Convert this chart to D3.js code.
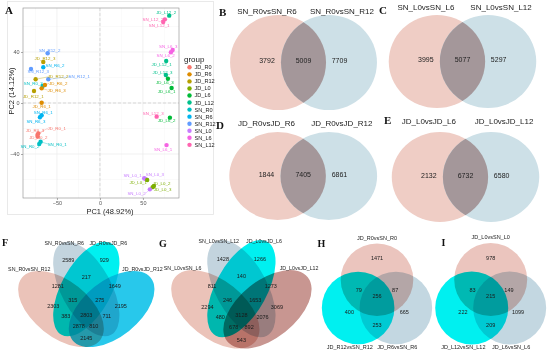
<!DOCTYPE html>
<html><head><meta charset="utf-8">
<script src="https://cdn.jsdelivr.net/npm/d3@7/dist/d3.min.js"></script>
<style>
html,body{margin:0;padding:0;background:#fff;}
svg{display:block;}
text{font-family:"Liberation Sans",Arial,sans-serif;}
.letter{font-family:"Liberation Serif","Times New Roman",serif;font-weight:bold;}
</style></head><body>
<svg id="fig" width="550" height="356"></svg>
<script>
// ===================== DATA =====================
// Panel A: PCA
const groups = ["JD_R0","JD_R6","JD_R12","JD_L0","JD_L6","JD_L12","SN_R0","SN_R6","SN_R12","SN_L0","SN_L6","SN_L12"];
const groupColors = ["#F8766D","#DE8C00","#B79F00","#7CAE00","#00BA38","#00C08B","#00BFC4","#00B4F0","#619CFF","#C77CFF","#F564E3","#FF64B0"];
const sampleNames = ["JD_L12_2","SN_L12_2","SN_L12_1","SN_L6_3","SN_L6_2","JD_L12_1","JD_L12_3","JD_L6_3","JD_L6_1","SN_L12_3","JD_L6_2","SN_L6_1",
  "SN_L0_1","SN_L0_3","JD_L0_1","JD_L0_2","JD_L0_3","SN_L0_2",
  "SN_R12_2","JD_R12_3","SN_R6_2","SN_R12_3","JD_R12_2","SN_R12_1","SN_R0_3","JD_R6_2","JD_R6_3","JD_R12_1","JD_R6_1","SN_R6_1","SN_R6_3",
  "JD_R0_1","JD_R0_3","JD_R0_2","SN_R0_1","SN_R0_2"];
const pc1 = [80.6,75.6,73.6,84.6,82.6,77.1,76.7,79.1,83.4,66.0,81.4,77.5,
  51.5,53.1,55.0,62.8,61.3,58.1,
  -60.8,-65.9,-65.9,-80.2,-74.8,-60.1,-66.6,-64.0,-67.8,-76.7,-67.8,-67.8,-69.8,
  -71.7,-72.7,-72.4,-69.0,-70.6];
const pc2 = [68.5,65.6,63.5,41.6,39.8,32.9,22.0,19.0,11.8,-10.7,-11.5,-33.0,
  -59.0,-59.6,-60.4,-65.1,-66.0,-67.7,
  39.0,32.2,28.0,26.7,18.6,18.6,13.3,14.1,11.5,9.4,0.2,-9.6,-11.2,
  -23.8,-25.1,-26.4,-30.4,-32.2];
const xTicks = [-50, 0, 50];
const yTicks = [-40, 0, 40];
const xTitle = "PC1 (48.92%)";
const yTitle = "PC2 (14.12%)";
const legendTitle = "group";

// Panels B-E: two-set Venn diagrams
const vennBSets = ["SN_R0vsSN_R6","SN_R0vsSN_R12"];
const vennBCounts = [3792, 5009, 7709];
const vennCSets = ["SN_L0vsSN_L6","SN_L0vsSN_L12"];
const vennCCounts = [3995, 5077, 5297];
const vennDSets = ["JD_R0vsJD_R6","JD_R0vsJD_R12"];
const vennDCounts = [1844, 7405, 6861];
const vennESets = ["JD_L0vsJD_L6","JD_L0vsJD_L12"];
const vennECounts = [2132, 6732, 6580];

// Panels F-G: four-set Venn (sets: left, upper-left, upper-right, right)
const quadRegions = ["B","C","BC","AB","CD","ABC","BCD","A","D","AC","ABCD","BD","ACD","ABD","AD"];
const vennFSets = ["SN_R0vsSN_R12","SN_R0vsSN_R6","JD_R0vsJD_R6","JD_R0vsJD_R12"];
const vennFCounts = [2589, 929, 217, 1281, 1649, 315, 275, 2303, 2195, 383, 2803, 711, 2878, 810, 2145];
const vennGSets = ["SN_L0vsSN_L6","SN_L0vsSN_L12","JD_L0vsJD_L6","JD_L0vsJD_L12"];
const vennGCounts = [1428, 1266, 140, 811, 1273, 246, 1653, 2294, 3069, 480, 3128, 2076, 678, 892, 543];

// Panels H-I: three-set Venn (sets: top, bottom-left, bottom-right)
const triRegions = ["A","AB","AC","ABC","B","C","BC"];
const vennHSets = ["JD_R0vsSN_R0","JD_R12vsSN_R12","JD_R6vsSN_R6"];
const vennHCounts = [1471, 79, 87, 256, 400, 665, 253];
const vennISets = ["JD_L0vsSN_L0","JD_L12vsSN_L12","JD_L6vsSN_L6"];
const vennICounts = [978, 83, 149, 215, 222, 1099, 209];

// ===================== LAYOUT =====================
const svg = d3.select("#fig");
svg.append("rect").attr("width",550).attr("height",356).attr("fill","#fff");

function letter(t, x, y, size){
  svg.append("text").attr("class","letter").attr("x",x).attr("y",y)
    .attr("font-size",size||11).attr("fill","#111").text(t);
}

// ---------- Panel A ----------
const labelDx = [-3,-12,-4,-4.4,-5.3,-4.6,-3.3,-3,-5,-3.4,-3.3,-3.4, -11.6,9.3,-9,7.7,10,-13.3,
  2,1.7,11.7,7.3,22.5,31,-9.4,13.3,15,-0.7,0,1.6,-4, 18.4,-2.5,0.6,16.6,-9.3];
const labelDy = [-3.2,0,3.4,-3.3,3.4,3,-2.7,3.3,3.3,-3,3,4, -2.6,-4.7,2.7,-2.7,2.7,4,
  -2.6,-3,-1.6,2.7,-2.6,-2.6,-2.7,-1.7,1.7,5.7,3.3,-2.6,3.7, -5,-5,1,2.3,2];

svg.append("rect").attr("x",7.5).attr("y",1.5).attr("width",206).attr("height",213)
  .attr("fill","none").attr("stroke","#e4e4e4").attr("stroke-width",0.8);

const px = d3.scaleLinear().domain([-89.5, 92]).range([23, 179]);
const py = d3.scaleLinear().domain([-74.5, 74.5]).range([198, 8]);
const color = d3.scaleOrdinal().domain(groups).range(groupColors);
const gA = svg.append("g");
[-75,-25,25,75].forEach(v=>gA.append("line").attr("x1",px(v)).attr("x2",px(v)).attr("y1",py(74.5)).attr("y2",py(-74.5)).attr("stroke","#f3f3f3").attr("stroke-width",0.4));
[-60,-20,20,60].forEach(v=>gA.append("line").attr("y1",py(v)).attr("y2",py(v)).attr("x1",px(-89.5)).attr("x2",px(92)).attr("stroke","#f3f3f3").attr("stroke-width",0.4));
xTicks.forEach(v=>gA.append("line").attr("x1",px(v)).attr("x2",px(v)).attr("y1",py(74.5)).attr("y2",py(-74.5)).attr("stroke","#ebebeb").attr("stroke-width",0.7));
yTicks.forEach(v=>gA.append("line").attr("y1",py(v)).attr("y2",py(v)).attr("x1",px(-89.5)).attr("x2",px(92)).attr("stroke","#ebebeb").attr("stroke-width",0.7));
gA.append("line").attr("x1",px(0)).attr("x2",px(0)).attr("y1",py(74.5)).attr("y2",py(-74.5)).attr("stroke","#c4c4c4").attr("stroke-width",0.6).attr("stroke-dasharray","3,2");
gA.append("line").attr("y1",py(0)).attr("y2",py(0)).attr("x1",px(-89.5)).attr("x2",px(92)).attr("stroke","#c4c4c4").attr("stroke-width",0.6).attr("stroke-dasharray","3,2");
const xAxis = d3.axisBottom(px).tickValues(xTicks).tickSize(2).tickPadding(1.5);
const yAxis = d3.axisLeft(py).tickValues(yTicks).tickSize(2).tickPadding(1.5);
const gx = gA.append("g").attr("transform",`translate(0,${py(-74.5)})`).call(xAxis);
const gy = gA.append("g").attr("transform",`translate(${px(-89.5)},0)`).call(yAxis);
[gx,gy].forEach(g=>{g.select(".domain").remove();
  g.selectAll("line").attr("stroke","#555").attr("stroke-width",0.5);
  g.selectAll("text").attr("font-size",5.5).attr("fill","#555").attr("font-family","Liberation Sans, Arial, sans-serif");});
gA.append("rect").attr("x",px(-89.5)).attr("y",py(74.5)).attr("width",px(92)-px(-89.5)).attr("height",py(-74.5)-py(74.5))
  .attr("fill","none").attr("stroke","#8a8a8a").attr("stroke-width",0.6);
gA.append("text").attr("x",110).attr("y",214).attr("text-anchor","middle").attr("font-size",7.5).attr("fill","#222").text(xTitle);
gA.append("text").attr("transform","translate(14,91) rotate(-90)").attr("text-anchor","middle").attr("font-size",7.5).attr("fill","#222").text(yTitle);

const samples = sampleNames.map((n,i)=>({name:n, group:n.replace(/_\d+$/,""), x:pc1[i], y:pc2[i], dx:labelDx[i], dy:labelDy[i]}));
samples.filter(d=>Math.hypot(d.dx,d.dy)>12).forEach(d=>{
  gA.append("line").attr("x1",px(d.x)).attr("y1",py(d.y)).attr("x2",px(d.x)+d.dx-Math.sign(d.dx)*9).attr("y2",py(d.y)+d.dy)
    .attr("stroke",color(d.group)).attr("stroke-width",0.35);
});
gA.selectAll("circle.pt").data(samples).join("circle").attr("class","pt")
  .attr("cx",d=>px(d.x)).attr("cy",d=>py(d.y)).attr("r",2.2).attr("fill",d=>color(d.group));
gA.selectAll("text.lab").data(samples).join("text").attr("class","lab")
  .attr("x",d=>px(d.x)+d.dx).attr("y",d=>py(d.y)+d.dy).attr("dy","0.35em")
  .attr("text-anchor","middle").attr("font-size",4.4).attr("fill",d=>color(d.group)).text(d=>d.name);
const lg = gA.append("g");
lg.append("text").attr("x",184).attr("y",62).attr("font-size",8).attr("fill","#222").text(legendTitle);
groups.forEach((g,i)=>{
  const yy = 67.3 + i*7.05;
  lg.append("circle").attr("cx",189.5).attr("cy",yy).attr("r",2.2).attr("fill",color(g));
  lg.append("text").attr("x",194.5).attr("y",yy).attr("dy","0.35em").attr("font-size",5.6).attr("fill","#222").text(g);
});
letter("A", 5, 14, 11);

// ---------- two-set Venn ----------
const twoCircles = [-0.53, 0.53];
const twoCountX = [-0.76, 0, 0.75];
const twoTitleX = [-0.76, 0.8];
function venn2(sets, counts, ox, oy, sx, sy, titleY){
  const x = d3.scaleLinear().domain([0,1]).range([ox, ox+sx]);
  const y = d3.scaleLinear().domain([0,1]).range([oy, oy+sy]);
  const g = svg.append("g");
  g.append("ellipse").attr("cx",x(twoCircles[0])).attr("cy",y(0)).attr("rx",sx).attr("ry",sy).attr("fill","#efcdc5");
  g.append("ellipse").attr("cx",x(twoCircles[1])).attr("cy",y(0)).attr("rx",sx).attr("ry",sy).attr("fill","#cde0e7");
  const d = twoCircles[1] - twoCircles[0];
  const hh = sy * Math.sqrt(1 - (d/2)*(d/2));
  const mx = x((twoCircles[0]+twoCircles[1])/2);
  const p = `M${mx},${y(0)-hh} A${sx},${sy} 0 0 1 ${mx},${y(0)+hh} A${sx},${sy} 0 0 1 ${mx},${y(0)-hh} Z`;
  g.append("path").attr("d",p).attr("fill","#a4979a");
  counts.forEach((c,i)=>g.append("text").attr("x",x(twoCountX[i])).attr("y",y(-0.04)).attr("dy","0.35em")
    .attr("text-anchor","middle").attr("font-size",7).attr("fill","#222").text(c));
  sets.forEach((s,i)=>g.append("text").attr("x",x(twoTitleX[i])).attr("y",y(titleY)).attr("dy","0.35em")
    .attr("text-anchor","middle").attr("font-size",8).attr("fill","#222").text(s));
}
venn2(vennBSets, vennBCounts, 303.5, 62.5, 48, 47.5, -1.07);
venn2(vennCSets, vennCCounts, 462.5, 61.5, 48.2, 46.5, -1.17);
venn2(vennDSets, vennDCounts, 303.2, 176, 48.3, 44, -1.21);
venn2(vennESets, vennECounts, 465.5, 177, 48.2, 45, -1.24);
letter("B", 219, 16, 11);
letter("C", 379, 13.5, 11);
letter("D", 216, 128.5, 11);
letter("E", 384, 123.5, 11);

// ---------- four-set Venn ----------
const quadShapes = [
  {cx:-25.3, cy:9, a:50, b:28, rot:38.5},
  {cx:0, cy:-11, a:52, b:25, rot:61.5},
  {cx:0, cy:-11, a:52, b:25, rot:-61.5},
  {cx:25.3, cy:9, a:50, b:28, rot:-38.5}];
const quadLabelPos = {B:[-18,-39.5],C:[18,-39.5],BC:[0,-23],AB:[-28.5,-14],CD:[28.5,-14],ABC:[-13.5,0],BCD:[13.5,0],
  A:[-33,6.5],D:[34.5,6.5],AC:[-20.5,16.5],BD:[20.5,16.5],ABCD:[0,15],ACD:[-7.5,26.5],ABD:[7.5,26.5],AD:[0,38.5]};
const quadSetLabelPos = [[-57,-31],[-22,-57.3],[22,-57.3],[56,-31]];
function venn4(sets, counts, fills, ox, oy, s){
  const x = d3.scaleLinear().domain([0,1]).range([ox, ox+s]);
  const y = d3.scaleLinear().domain([0,1]).range([oy, oy+s]);
  const g = svg.append("g").style("isolation","isolate");
  quadShapes.forEach((e,i)=>{
    g.append("ellipse").attr("transform",`translate(${x(e.cx)},${y(e.cy)}) rotate(${e.rot})`)
      .attr("rx",e.a*s).attr("ry",e.b*s).attr("fill",fills[i]).style("mix-blend-mode","multiply");
  });
  quadRegions.forEach((r,i)=>{
    const p = quadLabelPos[r];
    svg.append("text").attr("x",x(p[0])).attr("y",y(p[1])).attr("dy","0.35em").attr("text-anchor","middle")
      .attr("font-size",5.5).attr("fill","#1a1a1a").text(counts[i]);
  });
  sets.forEach((t,i)=>{
    const p = quadSetLabelPos[i];
    svg.append("text").attr("x",x(p[0])).attr("y",y(p[1])).attr("dy","0.35em").attr("text-anchor","middle")
      .attr("font-size",5.3).attr("fill","#222").text(t);
  });
}
venn4(vennFSets, vennFCounts, ["#ebc3b9","#c3d4de","#00f0f0","#28c8eb"], 86.3, 300, 1);
venn4(vennGSets, vennGCounts, ["#ebc3b9","#c3d4de","#00f0f0","#c89691"], 241.4, 300, 1.03);
letter("F", 2, 245.5, 10);
letter("G", 159, 246.5, 10);

// ---------- three-set Venn ----------
const triShapes = [{cx:0,cy:-0.78},{cx:-0.52,cy:0},{cx:0.52,cy:0}];
const triLabelPos = {A:[0,-1.37],AB:[-0.5,-0.49],AC:[0.5,-0.49],ABC:[0,-0.34],B:[-0.76,0.1],C:[0.75,0.1],BC:[0,0.46]};
const triSetLabelPos = [[0,-1.93],[-0.75,1.07],[0.56,1.08]];
function venn3(sets, counts, ox, oy, s){
  const x = d3.scaleLinear().domain([0,1]).range([ox, ox+s]);
  const y = d3.scaleLinear().domain([0,1]).range([oy, oy+s]);
  const g = svg.append("g").style("isolation","isolate");
  const fills = ["#ebc5be","#00f0f0","#c3d7e1"];
  triShapes.forEach((c,i)=>g.append("circle").attr("cx",x(c.cx)).attr("cy",y(c.cy)).attr("r",s)
    .attr("fill",fills[i]).style("mix-blend-mode","multiply"));
  triRegions.forEach((r,i)=>{
    const p = triLabelPos[r];
    svg.append("text").attr("x",x(p[0])).attr("y",y(p[1])).attr("dy","0.35em").attr("text-anchor","middle")
      .attr("font-size",5.5).attr("fill","#1a1a1a").text(counts[i]);
  });
  sets.forEach((t,i)=>{
    const p = triSetLabelPos[i];
    svg.append("text").attr("x",x(p[0])).attr("y",y(p[1])).attr("dy","0.35em").attr("text-anchor","middle")
      .attr("font-size",5.5).attr("fill","#222").text(t);
  });
}
venn3(vennHSets, vennHCounts, 377, 308, 36.3);
venn3(vennISets, vennICounts, 490.7, 308, 36.5);
letter("H", 317.5, 246.5, 10);
letter("I", 441.5, 245.5, 10);
</script></body></html>
